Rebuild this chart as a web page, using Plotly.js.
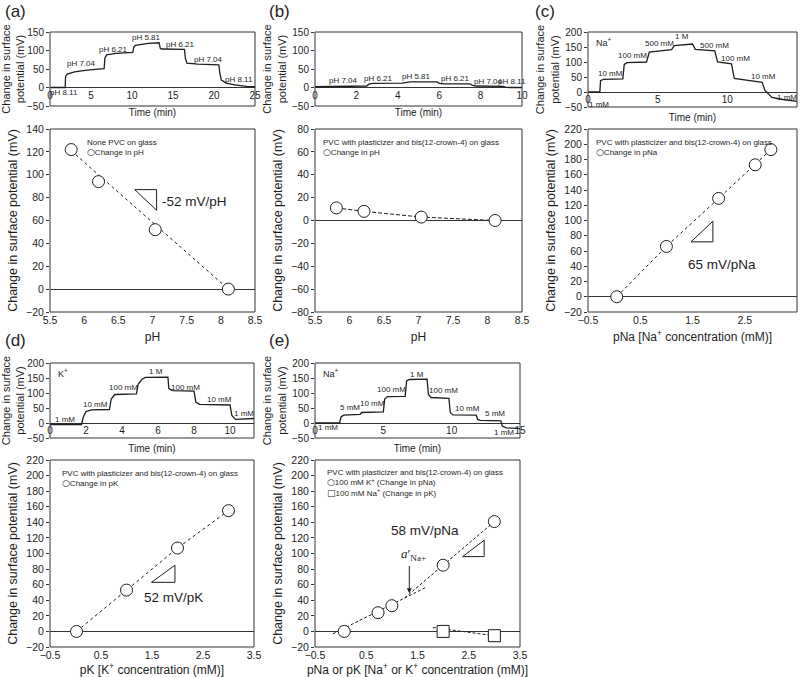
<!DOCTYPE html>
<html>
<head>
<meta charset="utf-8">
<script src="https://cdn.plot.ly/plotly-3.0.1.min.js"></script>
<style>html,body{margin:0;padding:0;background:#fff;}#chart{width:800px;height:677px;}</style>
</head>
<body>
<div id="chart"></div>
<script>
// ---------- DATA ----------
// (a) top: time trace, bare glass, pH changes
const tA = [0, 1.85, 1.9, 2.1, 3, 4.5, 6.6, 6.7, 6.9, 8, 10.1, 10.2, 10.4, 12, 13.3, 13.45, 13.6, 16.4, 16.5, 16.7, 18, 20.6, 20.7, 20.9, 21.5, 22.5, 24, 25];
const vA = [0, 0, 30, 36, 42, 47, 51, 80, 88, 92, 95, 108, 114, 119, 121, 106, 104, 103, 80, 66, 63, 61, 40, 20, 12, 7, 3, 2];
const labA = ["pH 8.11","pH 7.04","pH 6.21","pH 5.81","pH 6.21","pH 7.04","pH 8.11"];
const labAx = [1.7, 3.9, 7.7, 11.8, 15.9, 19.3, 23.0];
const labAy = [-14, 64, 103, 136, 116, 75, 22];
// (a) bottom
const pHa = [5.81, 6.21, 7.04, 8.11];
const dVa = [122, 94, 52, 0];
const fitAx = [5.81, 8.11];
const fitAy = [121, 0];

// (b) top
const tB = [0, 1, 2.5, 2.6, 2.8, 4.2, 4.4, 4.6, 5.9, 6.0, 6.2, 7.5, 7.6, 7.8, 9.1, 9.2, 9.4, 10];
const vB = [2, 3, 4, 9, 11, 12, 14, 15, 15, 11, 10, 10, 6, 4, 3, 1, 0, 0];
const labB = ["pH 7.04","pH 6.21","pH 5.81","pH 6.21","pH 7.04","pH 8.11"];
const labBx = [1.37, 3.06, 4.9, 6.77, 8.39, 9.5];
const labBy = [20, 24, 29, 24, 15, 15];
// (b) bottom
const pHb = [5.81, 6.21, 7.04, 8.11];
const dVb = [11, 8, 3, 0];

// (c) top
const tC = [0, 0.85, 0.9, 1.1, 2.5, 2.6, 2.8, 4.1, 4.2, 4.4, 5.9, 6.0, 6.2, 7.4, 7.5, 7.7, 9.0, 9.1, 9.3, 10.2, 10.3, 10.5, 12.4, 12.5, 12.7, 13.2, 14, 15];
const vC = [0, 0, 38, 42, 44, 92, 98, 100, 100, 133, 139, 141, 155, 159, 160, 142, 138, 137, 100, 95, 94, 45, 35, 32, 5, -18, -25, -31];
const labC = ["1 mM","10 mM","100 mM","500 mM","1 M","500 mM","100 mM","10 mM","1 mM"];
const labCx = [0.8, 1.6, 3.2, 5.1, 6.75, 9.1, 10.6, 12.6, 14.3];
const labCy = [-43, 62, 122, 161, 184, 156, 110, 50, -20];
// (c) bottom
const pNaC = [0.05, 1.0, 2.0, 2.7, 3.0];
const dVc = [0, 66, 129, 173, 193];

// (d) top
const tD = [0, 1.75, 1.85, 2.0, 2.3, 3.3, 3.4, 3.6, 4.8, 4.9, 5.1, 5.3, 6.55, 6.6, 6.8, 8.0, 8.1, 8.3, 10.0, 10.1, 10.3, 10.8, 11.33];
const vD = [-5, -5, 20, 38, 44, 45, 80, 95, 97, 130, 145, 152, 153, 115, 108, 106, 70, 62, 60, 25, 12, 13, 15];
const labD = ["1 mM","10 mM","100 mM","1 M","100 mM","10 mM","1 mM"];
const labDx = [0.83, 2.5, 4.07, 5.9, 7.5, 9.4, 10.8];
const labDy = [13, 63, 120, 172, 120, 79, 33];
// (d) bottom
const pKD = [0.02, 1.0, 2.0, 3.0];
const dVd = [0, 53, 107, 155];

// (e) top
const tE = [0, 1.8, 1.9, 2.1, 3.3, 3.4, 5.0, 5.1, 5.3, 6.6, 6.7, 6.9, 8.2, 8.3, 8.5, 9.8, 9.9, 10.1, 11.8, 11.9, 12.1, 13.6, 13.7, 14, 15];
const vE = [0, 0, 20, 26, 29, 35, 37, 80, 88, 89, 140, 145, 146, 95, 85, 82, 35, 27, 26, 12, 9, 7, -10, -16, -19];
const labE = ["1 mM","5 mM","10 mM","100 mM","1 M","100 mM","10 mM","5 mM","1 mM"];
const labEx = [0.98, 2.56, 4.2, 5.6, 7.44, 9.4, 11.15, 13.2, 13.8];
const labEy = [-16, 52, 64, 112, 163, 107, 50, 31, -30];
// (e) bottom
const pNaE = [0.07, 0.73, 1.0, 2.0, 3.0];
const dVe = [0, 24, 33, 85, 141];
const pKE = [2.0, 3.0];
const dVsq = [0, -5.5];
const fitE1x = [-0.15, 1.65], fitE1y = [-3, 56];
const fitE2x = [1.25, 3.0], fitE2y = [43, 141];
const fitSqx = [1.8, 3.0], fitSqy = [5, -5.5];

// ---------- LAYOUT HELPERS ----------
const W = 800, H = 677;
const FONT = "Liberation Sans, Arial, sans-serif";
const INK = "#1e1e1e";
const CIRC = '<span style="font-family:DejaVu Sans;font-size:9px">○</span>';
const SQR = '<span style="font-family:DejaVu Sans;font-size:9px">□</span>';
function dx(a, b) { return [a / W, b / W]; }
function dy(top, bot) { return [1 - bot / H, 1 - top / H]; }
function zeroPos(dom, r) { return dom[0] + (0 - r[0]) / (r[1] - r[0]) * (dom[1] - dom[0]); }

const layout = {
  width: W, height: H,
  margin: {l: 0, r: 0, t: 0, b: 0},
  paper_bgcolor: "#fff", plot_bgcolor: "#fff",
  showlegend: false,
  font: {family: FONT, color: INK, size: 10},
  shapes: [], annotations: []
};

const traces = [];

function topPanel(n, xd, yd, xr, dtickx, yr, tx, vy, lx, ly, labels, ionLabel) {
  const xs = n === 1 ? "xaxis" : "xaxis" + n;
  const ys = n === 1 ? "yaxis" : "yaxis" + n;
  const xk = n === 1 ? "x" : "x" + n;
  const yk = n === 1 ? "y" : "y" + n;
  const ydom = dy(yd[0], yd[1]);
  layout[xs] = {domain: dx(xd[0], xd[1]), range: xr, anchor: "free", position: zeroPos(ydom, yr),
    tick0: 0, dtick: dtickx, showgrid: false, zeroline: false, showline: false, ticks: "",
    tickfont: {size: 10}, title: {text: "Time (min)", font: {size: 10}, standoff: 9}};
  layout[ys] = {domain: ydom, range: yr, anchor: xk, dtick: 50, showgrid: false,
    zeroline: true, zerolinecolor: "#333", zerolinewidth: 1, showline: false,
    ticks: "outside", ticklen: 3, tickcolor: "#333", tickfont: {size: 10},
    title: {text: "Change in surface<br>potential (mV)", font: {size: 11}, standoff: 3}};
  layout.shapes.push({type: "rect", xref: xk + " domain", yref: yk + " domain", x0: 0, x1: 1, y0: 0, y1: 1,
    line: {color: "#333", width: 1}});
  traces.push({x: tx, y: vy, xaxis: xk, yaxis: yk, type: "scatter", mode: "lines",
    line: {color: INK, width: 1.3}, hoverinfo: "skip"});
  for (let i = 0; i < labels.length; i++) {
    layout.annotations.push({xref: xk, yref: yk, x: lx[i], y: ly[i], text: labels[i], showarrow: false,
      font: {size: 8, color: INK}});
  }
  if (ionLabel) {
    layout.annotations.push({xref: xk + " domain", yref: yk + " domain", x: 0.03, y: 0.97, xanchor: "left", yanchor: "top",
      text: ionLabel, showarrow: false, font: {size: 9, color: INK}});
  }
}

function bottomPanel(n, xd, yd, xr, tick0, dtickx, yr, xtitle) {
  const xs = "xaxis" + n, ys = "yaxis" + n, xk = "x" + n, yk = "y" + n;
  layout[xs] = {domain: dx(xd[0], xd[1]), range: xr, anchor: yk, tick0: tick0, dtick: dtickx,
    showgrid: false, zeroline: false, showline: false, ticks: "", tickfont: {size: 10.5},
    title: {text: xtitle, font: {size: 12}, standoff: 8}};
  layout[ys] = {domain: dy(yd[0], yd[1]), range: yr, anchor: xk, dtick: 20, showgrid: false,
    zeroline: true, zerolinecolor: "#333", zerolinewidth: 1.2, showline: false,
    ticks: "outside", ticklen: 3, tickcolor: "#333", tickfont: {size: 10.5},
    title: {text: "Change in surface potential (mV)", font: {size: 12.5}, standoff: 5}};
  layout.shapes.push({type: "rect", xref: xk + " domain", yref: yk + " domain", x0: 0, x1: 1, y0: 0, y1: 1,
    line: {color: "#333", width: 1}});
}

function lineTrace(n, x, y, dash) {
  traces.push({x: x, y: y, xaxis: "x" + n, yaxis: "y" + n, type: "scatter", mode: "lines",
    line: {color: INK, width: 1, dash: dash}, hoverinfo: "skip"});
}
function markerTrace(n, x, y, symbol) {
  traces.push({x: x, y: y, xaxis: "x" + n, yaxis: "y" + n, type: "scatter", mode: "markers",
    marker: {symbol: symbol, size: 12, color: "#fff", line: {color: INK, width: 1}}, hoverinfo: "skip"});
}
function legendText(n, lines, x, y) {
  layout.annotations.push({xref: "x" + n + " domain", yref: "y" + n + " domain", x: x, y: y,
    xanchor: "left", yanchor: "top", align: "left", text: lines.join("<br>"), showarrow: false,
    font: {size: 8, color: INK}});
}
function slopeTri(n, x0, x1, y0, y1) {
  const p = `M ${x0},${y0} L ${x1},${y0} L ${x1},${y1} Z`;
  layout.shapes.push({type: "path", xref: "x" + n, yref: "y" + n, path: p, line: {color: INK, width: 1}});
}
function bigText(n, x, y, text) {
  layout.annotations.push({xref: "x" + n, yref: "y" + n, x: x, y: y, text: text, showarrow: false,
    font: {size: 13.5, color: INK}});
}

// ---------- PANELS ----------
// (a)
topPanel(1, [50, 255], [32, 106], [0, 25], 5, [-50, 150], tA, vA, labAx, labAy, labA, null);
bottomPanel(2, [50, 255], [129, 312], [5.5, 8.5], 5.5, 0.5, [-20, 140], "pH");
lineTrace(2, fitAx, fitAy, "dot");
markerTrace(2, pHa, dVa, "circle");
legendText(2, ["None PVC on glass", CIRC + "Change in pH"], 0.17, 0.96);
slopeTri(2, 6.74, 7.06, 87, 69);
bigText(2, 7.62, 77, "-52 mV/pH");

// (b)
topPanel(3, [315, 522], [32, 106], [0, 10], 2, [-50, 150], tB, vB, labBx, labBy, labB, null);
bottomPanel(4, [315, 522], [129, 312], [5.5, 8.5], 5.5, 0.5, [-80, 80], "pH");
lineTrace(4, pHb, dVb, "4px,2px");
markerTrace(4, pHb, dVb, "circle");
legendText(4, ["PVC with plasticizer and bis(12-crown-4) on glass", CIRC + "Change in pH"], 0.03, 0.96);

// (c)
topPanel(5, [588, 797], [32, 107], [0, 15], 5, [-50, 200], tC, vC, labCx, labCy, labC, "Na<sup>+</sup>");
bottomPanel(6, [588, 797], [129, 312], [-0.5, 3.5], -0.5, 1, [-20, 220], "pNa [Na<sup>+</sup> concentration (mM)]");
lineTrace(6, pNaC, dVc, "dot");
markerTrace(6, pNaC, dVc, "circle");
legendText(6, ["PVC with plasticizer and bis(12-crown-4) on glass", CIRC + "Change in pNa"], 0.03, 0.96);
slopeTri(6, 1.47, 1.89, 72, 99);
bigText(6, 2.07, 42, "65 mV/pNa");

// (d)
topPanel(7, [50, 254], [363, 438], [0, 11.33], 2, [-50, 200], tD, vD, labDx, labDy, labD, "K<sup>+</sup>");
bottomPanel(8, [50, 254], [460, 647], [-0.5, 3.5], -0.5, 1, [-20, 220], "pK [K<sup>+</sup> concentration (mM)]");
lineTrace(8, pKD, dVd, "dot");
markerTrace(8, pKD, dVd, "circle");
legendText(8, ["PVC with plasticizer and bis(12-crown-4) on glass", CIRC + "Change in pK"], 0.05, 0.96);
slopeTri(8, 1.49, 1.95, 63, 85);
bigText(8, 1.92, 43, "52 mV/pK");

// (e)
topPanel(9, [315, 520], [363, 438], [0, 15], 5, [-50, 200], tE, vE, labEx, labEy, labE, "Na<sup>+</sup>");
bottomPanel(10, [315, 520], [460, 647], [-0.5, 3.5], -0.5, 1, [-20, 220], "pNa or pK [Na<sup>+</sup> or K<sup>+</sup> concentration (mM)]");
lineTrace(10, fitE1x, fitE1y, "3px,2px");
lineTrace(10, fitE2x, fitE2y, "3px,2px");
lineTrace(10, fitSqx, fitSqy, "3px,2px");
markerTrace(10, pNaE, dVe, "circle");
markerTrace(10, pKE, dVsq, "square");
legendText(10, ["PVC with plasticizer and bis(12-crown-4) on glass", CIRC + "100 mM K<sup>+</sup> (Change in pNa)", SQR + "100 mM Na<sup>+</sup> (Change in pK)"], 0.05, 0.97);
slopeTri(10, 2.38, 2.80, 96, 117);
bigText(10, 1.64, 129, "58 mV/pNa");
layout.annotations.push({xref: "x10", yref: "y10", x: 1.34, y: 49, ax: 1.34, ay: 86, axref: "x10", ayref: "y10",
  text: "", showarrow: true, arrowhead: 2, arrowsize: 1, arrowwidth: 1, arrowcolor: INK});
layout.annotations.push({xref: "x10", yref: "y10", x: 1.42, y: 99, showarrow: false,
  text: "<i>a</i>′<sub>Na+</sub>", font: {family: "Liberation Serif, serif", size: 13, color: INK}});

// panel letters
[["(a)", 3, 11], ["(b)", 267, 11], ["(c)", 533, 11], ["(d)", 3, 340], ["(e)", 267, 340]].forEach(p => {
  layout.annotations.push({xref: "paper", yref: "paper", x: p[1] / W, y: 1 - p[2] / H, xanchor: "left", yanchor: "middle",
    text: p[0], showarrow: false, font: {size: 17, color: INK}});
});

Plotly.newPlot("chart", traces, layout, {staticPlot: true, displayModeBar: false});
</script>
</body>
</html>
